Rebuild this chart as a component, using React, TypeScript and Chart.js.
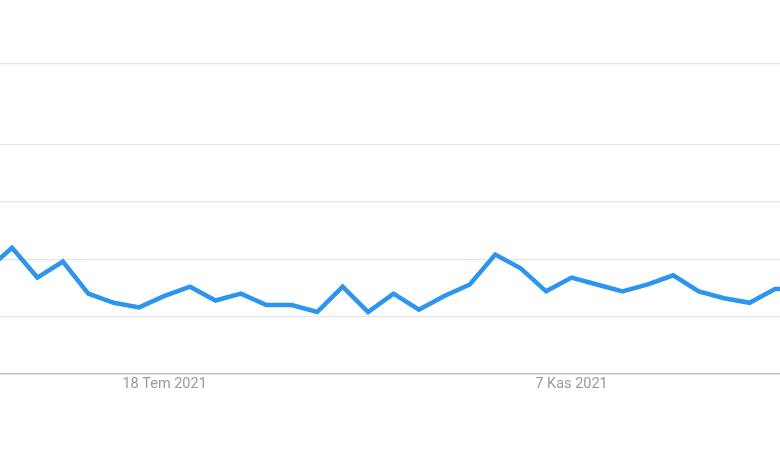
import React, { useEffect, useRef } from "react";
import { Chart, registerables } from "chart.js";

Chart.register(...registerables);

// Weekly dates (Turkish abbreviations)
const weeks = [
  "30 May 2021", "6 Haz 2021", "13 Haz 2021", "20 Haz 2021", "27 Haz 2021",
  "4 Tem 2021", "11 Tem 2021", "18 Tem 2021", "25 Tem 2021", "1 Ağu 2021",
  "8 Ağu 2021", "15 Ağu 2021", "22 Ağu 2021", "29 Ağu 2021", "5 Eyl 2021",
  "12 Eyl 2021", "19 Eyl 2021", "26 Eyl 2021", "3 Eki 2021", "10 Eki 2021",
  "17 Eki 2021", "24 Eki 2021", "31 Eki 2021", "7 Kas 2021", "14 Kas 2021",
  "21 Kas 2021", "28 Kas 2021", "5 Ara 2021", "12 Ara 2021", "19 Ara 2021",
  "26 Ara 2021", "2 Oca 2022", "9 Oca 2022",
];

// Search interest
const interest = [
  45, 55, 42, 49, 35, 31, 29, 34, 38, 32,
  35, 30, 30, 27, 38, 27, 35, 28, 34, 39,
  52, 46, 36, 42, 39, 36, 39, 43, 36, 33,
  31, 37, 37,
];

const tickLabels = ["18 Tem 2021", "7 Kas 2021"];
const gridValues = [0, 25, 50, 75, 100, 135.4];

export default function App() {
  const ref = useRef<HTMLCanvasElement | null>(null);

  useEffect(() => {
    if (!ref.current) return;
    const pxPerUnit = 763 / 30;
    const xMin = 1 - 12 / pxPerUnit;
    const xMax = xMin + 780 / pxPerUnit;
    const tickIdx = tickLabels.map((l) => weeks.indexOf(l));

    const chart = new Chart(ref.current, {
      type: "line",
      data: {
        datasets: [
          {
            data: interest.map((v, i) => ({ x: i, y: v })),
            borderColor: "#2d95ed",
            borderWidth: 4.5,
            pointRadius: 0,
            tension: 0,
            fill: false,
          },
        ],
      },
      options: {
        animation: false,
        responsive: false,
        layout: { padding: { left: 0, right: 0, top: 0, bottom: 74.6 } },
        plugins: { legend: { display: false }, tooltip: { enabled: false } },
        scales: {
          x: {
            type: "linear",
            min: xMin,
            max: xMax,
            grid: { display: false, drawTicks: false },
            border: { display: true, color: "#c4c4c4", width: 1.5 },
            afterBuildTicks: (scale: any) => {
              scale.ticks = tickIdx.map((v) => ({ value: v }));
            },
            ticks: {
              autoSkip: false,
              maxRotation: 0,
              padding: 2,
              color: "#9a9a9a",
              font: { family: "Roboto", size: 14.5 },
              callback: (v: any) => weeks[Number(v)] ?? "",
            },
          },
          y: {
            min: 0,
            max: 162.9,
            afterBuildTicks: (scale: any) => {
              scale.ticks = gridValues.map((v) => ({ value: v }));
            },
            grid: {
              drawTicks: false,
              color: (ctx: any) => (ctx.tick && ctx.tick.value === 0 ? "rgba(0,0,0,0)" : "#e6e6e6"),
              lineWidth: 1.2,
            },
            border: { display: false },
            ticks: { display: false },
          },
        },
      },
    });
    return () => chart.destroy();
  }, []);

  return (
    <div style={{ position: "fixed", left: 0, top: 0, width: 780, height: 470, background: "#fff" }}>
      <canvas ref={ref} width={780} height={470} />
    </div>
  );
}
